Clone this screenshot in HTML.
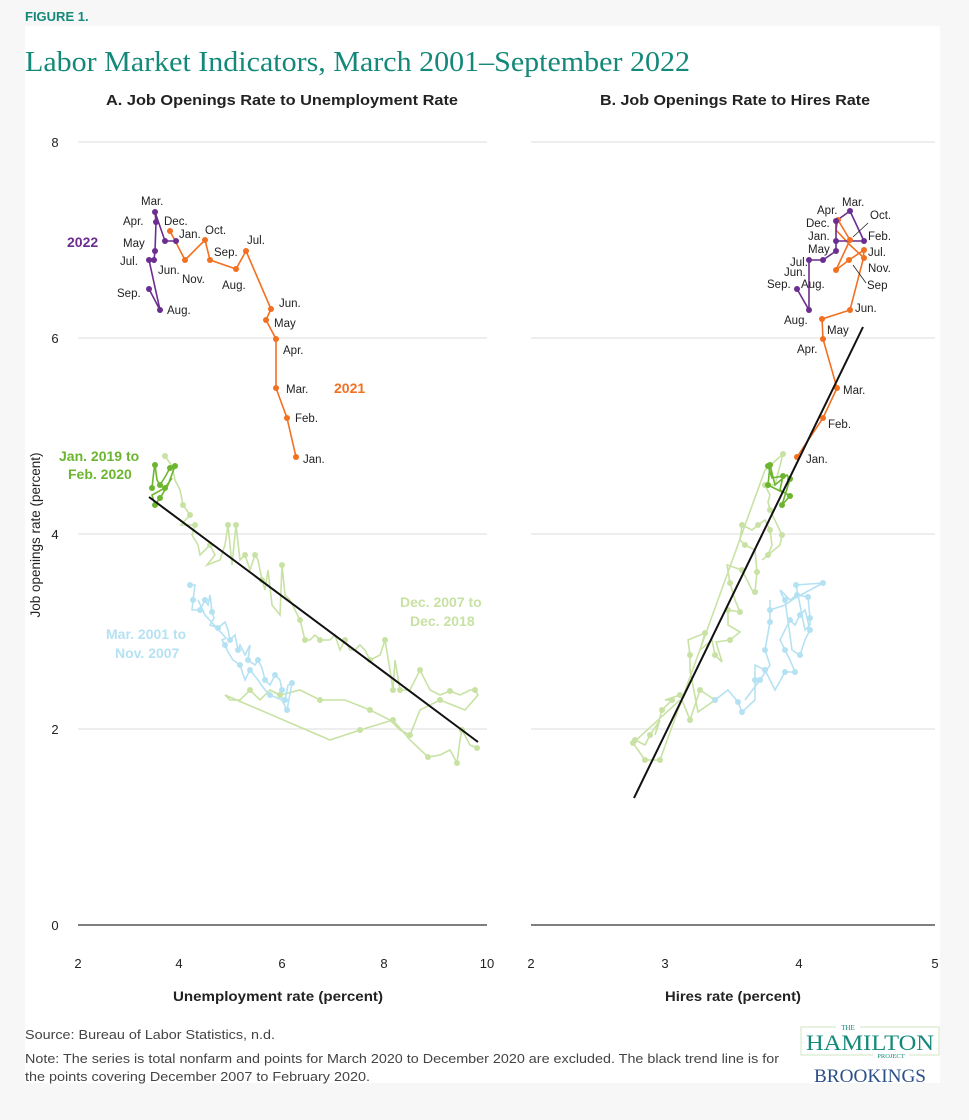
<!DOCTYPE html>
<html><head><meta charset="utf-8"><style>
html,body{margin:0;padding:0;background:#f7f7f7;}
svg{display:block;}
text{font-family:"Liberation Sans",sans-serif;}
.m{font-size:11.5px;fill:#222;}
.t{font-size:13px;fill:#222;}
</style></head><body>
<svg width="969" height="1120" viewBox="0 0 969 1120" xmlns="http://www.w3.org/2000/svg">
<rect x="25" y="26" width="915" height="1057" fill="#fff"/>
<text x="25" y="21" font-size="13" font-weight="bold" fill="#14897a">FIGURE 1.</text>
<text x="25" y="71" font-size="29" fill="#14897a" style="font-family:'Liberation Serif',serif" textLength="665" lengthAdjust="spacingAndGlyphs">Labor Market Indicators, March 2001–September 2022</text>
<text x="106" y="105" font-size="15" font-weight="bold" fill="#222" textLength="352" lengthAdjust="spacingAndGlyphs">A. Job Openings Rate to Unemployment Rate</text>
<text x="600" y="105" font-size="15" font-weight="bold" fill="#222" textLength="270" lengthAdjust="spacingAndGlyphs">B. Job Openings Rate to Hires Rate</text>
<!-- grid -->
<g stroke="#e3e3e3" stroke-width="1.3">
<line x1="78" y1="142" x2="487" y2="142"/><line x1="78" y1="338" x2="487" y2="338"/><line x1="78" y1="534" x2="487" y2="534"/><line x1="78" y1="729" x2="487" y2="729"/>
<line x1="531" y1="142" x2="935" y2="142"/><line x1="531" y1="338" x2="935" y2="338"/><line x1="531" y1="534" x2="935" y2="534"/><line x1="531" y1="729" x2="935" y2="729"/>
</g>
<g stroke="#333" stroke-width="1.2"><line x1="78" y1="925" x2="487" y2="925"/><line x1="531" y1="925" x2="935" y2="925"/></g>
<g class="t" text-anchor="middle">
<text x="55" y="147">8</text><text x="55" y="343">6</text><text x="55" y="539">4</text><text x="55" y="734">2</text><text x="55" y="930">0</text>
<text x="78" y="968">2</text><text x="179" y="968">4</text><text x="282" y="968">6</text><text x="384" y="968">8</text><text x="487" y="968">10</text>
<text x="531" y="968">2</text><text x="665" y="968">3</text><text x="799" y="968">4</text><text x="935" y="968">5</text>
</g>
<text x="173" y="1001" font-size="14" font-weight="bold" fill="#222" textLength="210" lengthAdjust="spacingAndGlyphs">Unemployment rate (percent)</text>
<text x="665" y="1001" font-size="14" font-weight="bold" fill="#222" textLength="136" lengthAdjust="spacingAndGlyphs">Hires rate (percent)</text>
<text transform="translate(40,535) rotate(-90)" text-anchor="middle" font-size="13.5" fill="#222">Job openings rate (percent)</text>

<!-- Panel A -->
<g fill="none" stroke-width="1.6">
<polyline stroke="#c8e2a4" points="165,456 172,466 175,480 180,490 183,505 190,515 181,525 195,525 192,535 198,545 200,555 210,545 215,555 207,565 220,560 225,545 228,525 232,565 236,525 240,560 245,555 250,570 255,555 258,560 262,580 265,590 268,570 272,605 280,615 282,565 285,595 290,600 300,620 305,640 310,640 315,635 320,640 330,640 335,635 340,650 345,640 350,650 355,650 360,645 365,650 370,660 380,655 385,640 390,670 393,690 395,660 400,690 405,690 410,690 420,670 430,690 440,695 450,691 460,695 470,690 475,690 478,695 465,710 440,700 420,710 410,735 400,730 390,720 370,710 345,700 320,700 300,690 280,695 270,690 260,700 250,690 240,700 230,700 225,695 330,740 360,730 393,720 410,740 428,757 440,755 450,750 457,763 460,740 462,730 470,745 477,748" />
<polyline stroke="#b5e2f3" points="190,585 195,585 193,600 192,610 200,610 205,600 208,605 210,595 212,612 214,618 210,625 218,628 225,622 228,630 230,640 235,635 238,650 240,645 245,655 250,645 248,660 255,665 258,660 262,668 265,680 270,685 275,675 280,680 282,690 278,695 285,700 288,685 292,683 287,710 282,700 270,695 265,690 258,680 250,670 245,680 240,665 233,660 228,652 225,645 222,640 226,638 205,615 198,600"/>
<polyline stroke="#6cb52f" points="152,488 154,470 155,465 157,480 160,485 165,477 170,468 175,466 168,485 160,498 155,505 152,495 165,488 172,478"/>
<polyline stroke="#f37021" points="296,457 287,418 276,388 276,339 266,320 271,309 246,251 236,269 210,260 205,240 185,260 170,231"/>
<polyline stroke="#6b2d8f" points="176,241 165,241 155,212 156,222 155,251 154,260 149,260 160,310 149,289"/>
</g>
<g>
<g fill="#c8e2a4">
<circle cx="165" cy="456" r="3"/><circle cx="183" cy="505" r="3"/><circle cx="195" cy="525" r="3"/><circle cx="210" cy="545" r="3"/><circle cx="228" cy="525" r="3"/><circle cx="236" cy="525" r="3"/><circle cx="245" cy="555" r="3"/><circle cx="262" cy="580" r="3"/><circle cx="282" cy="565" r="3"/><circle cx="300" cy="620" r="3"/><circle cx="320" cy="640" r="3"/><circle cx="345" cy="640" r="3"/><circle cx="370" cy="660" r="3"/><circle cx="385" cy="640" r="3"/><circle cx="393" cy="690" r="3"/><circle cx="420" cy="670" r="3"/><circle cx="450" cy="691" r="3"/><circle cx="475" cy="690" r="3"/><circle cx="440" cy="700" r="3"/><circle cx="410" cy="735" r="3"/><circle cx="370" cy="710" r="3"/><circle cx="320" cy="700" r="3"/><circle cx="280" cy="695" r="3"/><circle cx="250" cy="690" r="3"/><circle cx="360" cy="730" r="3"/><circle cx="393" cy="720" r="3"/><circle cx="428" cy="757" r="3"/><circle cx="457" cy="763" r="3"/><circle cx="462" cy="730" r="3"/><circle cx="477" cy="748" r="3"/><circle cx="190" cy="515" r="3"/><circle cx="255" cy="555" r="3"/><circle cx="305" cy="640" r="3"/><circle cx="400" cy="690" r="3"/>
</g>
<g fill="#b5e2f3">
<circle cx="190" cy="585" r="3"/><circle cx="193" cy="600" r="3"/><circle cx="205" cy="600" r="3"/><circle cx="212" cy="612" r="3"/><circle cx="218" cy="628" r="3"/><circle cx="230" cy="640" r="3"/><circle cx="238" cy="650" r="3"/><circle cx="248" cy="660" r="3"/><circle cx="258" cy="660" r="3"/><circle cx="265" cy="680" r="3"/><circle cx="275" cy="675" r="3"/><circle cx="282" cy="690" r="3"/><circle cx="285" cy="700" r="3"/><circle cx="292" cy="683" r="3"/><circle cx="287" cy="710" r="3"/><circle cx="270" cy="695" r="3"/><circle cx="250" cy="670" r="3"/><circle cx="240" cy="665" r="3"/><circle cx="225" cy="645" r="3"/><circle cx="200" cy="610" r="3"/>
</g>
<g fill="#6cb52f">
<circle cx="152" cy="488" r="3"/><circle cx="155" cy="465" r="3"/><circle cx="160" cy="485" r="3"/><circle cx="170" cy="468" r="3"/><circle cx="175" cy="466" r="3"/><circle cx="160" cy="498" r="3"/><circle cx="155" cy="505" r="3"/><circle cx="165" cy="488" r="3"/>
</g>
<g fill="#f37021">
<circle cx="296" cy="457" r="3"/><circle cx="287" cy="418" r="3"/><circle cx="276" cy="388" r="3"/><circle cx="276" cy="339" r="3"/><circle cx="266" cy="320" r="3"/><circle cx="271" cy="309" r="3"/><circle cx="246" cy="251" r="3"/><circle cx="236" cy="269" r="3"/><circle cx="210" cy="260" r="3"/><circle cx="205" cy="240" r="3"/><circle cx="185" cy="260" r="3"/><circle cx="170" cy="231" r="3"/>
</g>
<g fill="#6b2d8f">
<circle cx="176" cy="241" r="3"/><circle cx="165" cy="241" r="3"/><circle cx="155" cy="212" r="3"/><circle cx="156" cy="222" r="3"/><circle cx="155" cy="251" r="3"/><circle cx="154" cy="260" r="3"/><circle cx="149" cy="260" r="3"/><circle cx="160" cy="310" r="3"/><circle cx="149" cy="289" r="3"/>
</g>
</g>
<line x1="149" y1="497" x2="478" y2="742" stroke="#111" stroke-width="2"/>

<!-- Panel B -->
<g fill="none" stroke-width="1.6">
<polyline stroke="#c8e2a4" points="635,740 645,745 650,735 660,720 655,735 662,710 672,700 665,700 680,695 690,720 700,690 715,700 698,712 690,670 690,655 688,640 705,633 700,650 712,640 715,655 722,662 716,642 730,640 740,632 728,625 728,610 740,612 735,600 730,583 727,565 742,570 752,590 755,592 757,572 755,550 745,545 740,540 742,525 752,530 758,525 765,520 770,530 772,545 768,555 762,560 780,545 782,535 770,510 768,502 770,495 765,485 775,485 783,454 765,470 660,760 645,760 633,743 680,700"/>
<polyline stroke="#b5e2f3" points="715,700 728,690 738,702 742,712 755,700 755,680 755,665 765,670 775,690 785,672 795,672 790,660 785,650 780,640 790,620 795,625 800,615 805,610 810,630 805,640 800,655 792,650 785,600 782,595 780,590 790,600 797,595 808,597 810,618 810,625 805,630 796,585 823,583 795,598 785,605 770,610 770,600 770,622 765,650 770,665 760,680 745,700"/>
<polyline stroke="#6cb52f" points="768,466 772,478 783,476 780,490 790,496 782,505 790,479 787,475 775,485 770,465 768,485 782,492"/>
<polyline stroke="#f37021" points="797,457 823,418 837,388 823,339 822,319 850,310 863,260 864,250 849,260 836,270 850,240 838,220 836,230 850,245 864,258"/>
<polyline stroke="#6b2d8f" points="836,241 864,241 850,211 836,221 836,241 836,251 823,260 809,260 809,310 797,289"/>
</g>
<g>
<g fill="#c8e2a4">
<circle cx="635" cy="740" r="3"/><circle cx="650" cy="735" r="3"/><circle cx="662" cy="710" r="3"/><circle cx="680" cy="695" r="3"/><circle cx="690" cy="720" r="3"/><circle cx="700" cy="690" r="3"/><circle cx="715" cy="700" r="3"/><circle cx="690" cy="655" r="3"/><circle cx="705" cy="633" r="3"/><circle cx="715" cy="655" r="3"/><circle cx="730" cy="640" r="3"/><circle cx="728" cy="610" r="3"/><circle cx="730" cy="583" r="3"/><circle cx="742" cy="570" r="3"/><circle cx="755" cy="592" r="3"/><circle cx="757" cy="572" r="3"/><circle cx="745" cy="545" r="3"/><circle cx="742" cy="525" r="3"/><circle cx="758" cy="525" r="3"/><circle cx="770" cy="530" r="3"/><circle cx="768" cy="555" r="3"/><circle cx="782" cy="535" r="3"/><circle cx="770" cy="510" r="3"/><circle cx="765" cy="485" r="3"/><circle cx="783" cy="454" r="3"/><circle cx="660" cy="760" r="3"/><circle cx="645" cy="760" r="3"/><circle cx="633" cy="743" r="3"/><circle cx="672" cy="700" r="3"/><circle cx="740" cy="612" r="3"/>
</g>
<g fill="#b5e2f3">
<circle cx="715" cy="700" r="3"/><circle cx="738" cy="702" r="3"/><circle cx="742" cy="712" r="3"/><circle cx="755" cy="680" r="3"/><circle cx="765" cy="670" r="3"/><circle cx="785" cy="672" r="3"/><circle cx="795" cy="672" r="3"/><circle cx="785" cy="650" r="3"/><circle cx="790" cy="620" r="3"/><circle cx="800" cy="615" r="3"/><circle cx="810" cy="630" r="3"/><circle cx="800" cy="655" r="3"/><circle cx="785" cy="600" r="3"/><circle cx="797" cy="595" r="3"/><circle cx="808" cy="597" r="3"/><circle cx="810" cy="618" r="3"/><circle cx="796" cy="585" r="3"/><circle cx="823" cy="583" r="3"/><circle cx="770" cy="610" r="3"/><circle cx="770" cy="622" r="3"/><circle cx="765" cy="650" r="3"/><circle cx="760" cy="680" r="3"/>
</g>
<g fill="#6cb52f">
<circle cx="768" cy="466" r="3"/><circle cx="783" cy="476" r="3"/><circle cx="790" cy="496" r="3"/><circle cx="782" cy="505" r="3"/><circle cx="790" cy="479" r="3"/><circle cx="770" cy="465" r="3"/><circle cx="768" cy="485" r="3"/>
</g>
<g fill="#f37021">
<circle cx="797" cy="457" r="3"/><circle cx="823" cy="418" r="3"/><circle cx="837" cy="388" r="3"/><circle cx="823" cy="339" r="3"/><circle cx="822" cy="319" r="3"/><circle cx="850" cy="310" r="3"/><circle cx="864" cy="250" r="3"/><circle cx="849" cy="260" r="3"/><circle cx="836" cy="270" r="3"/><circle cx="850" cy="240" r="3"/><circle cx="838" cy="220" r="3"/><circle cx="864" cy="258" r="3"/>
</g>
<g fill="#6b2d8f">
<circle cx="836" cy="241" r="3"/><circle cx="864" cy="241" r="3"/><circle cx="850" cy="211" r="3"/><circle cx="836" cy="221" r="3"/><circle cx="836" cy="251" r="3"/><circle cx="823" cy="260" r="3"/><circle cx="809" cy="260" r="3"/><circle cx="809" cy="310" r="3"/><circle cx="797" cy="289" r="3"/>
</g>
</g>
<line x1="634" y1="798" x2="863" y2="327" stroke="#111" stroke-width="2"/>
<g stroke="#222" stroke-width="0.8"><line x1="868" y1="223" x2="853" y2="237"/><line x1="866" y1="283" x2="853" y2="265"/></g>

<!-- labels A -->
<g class="m">
<text x="141" y="205">Mar.</text><text x="123" y="225">Apr.</text><text x="164" y="225">Dec.</text><text x="123" y="247">May</text><text x="179" y="238">Jan.</text><text x="205" y="234">Oct.</text>
<text x="120" y="265">Jul.</text><text x="158" y="274">Jun.</text><text x="182" y="283">Nov.</text><text x="214" y="256">Sep.</text><text x="247" y="244">Jul.</text><text x="222" y="289">Aug.</text>
<text x="117" y="297">Sep.</text><text x="167" y="314">Aug.</text><text x="279" y="307">Jun.</text><text x="274" y="327">May</text><text x="283" y="354">Apr.</text><text x="286" y="393">Mar.</text><text x="295" y="422">Feb.</text><text x="303" y="463">Jan.</text>
</g>
<g font-size="14" font-weight="bold">
<text x="67" y="247" fill="#6b2d8f">2022</text>
<text x="334" y="393" fill="#f37021">2021</text>
<text x="59" y="461" fill="#6cb52f">Jan. 2019 to</text><text x="68" y="479" fill="#6cb52f">Feb. 2020</text>
<text x="400" y="607" fill="#c8e2a4">Dec. 2007 to</text><text x="410" y="626" fill="#c8e2a4">Dec. 2018</text>
<text x="106" y="639" fill="#b5e2f3">Mar. 2001 to</text><text x="115" y="658" fill="#b5e2f3">Nov. 2007</text>
</g>
<!-- labels B -->
<g class="m">
<text x="842" y="206">Mar.</text><text x="817" y="214">Apr.</text><text x="806" y="227">Dec.</text><text x="870" y="219">Oct.</text><text x="808" y="240">Jan.</text><text x="868" y="240">Feb.</text>
<text x="808" y="253">May</text><text x="868" y="256">Jul.</text><text x="790" y="266">Jul.</text><text x="868" y="272">Nov.</text><text x="784" y="276">Jun.</text><text x="801" y="288">Aug.</text><text x="867" y="289">Sep</text>
<text x="767" y="288">Sep.</text><text x="855" y="312">Jun.</text><text x="784" y="324">Aug.</text><text x="827" y="334">May</text><text x="797" y="353">Apr.</text><text x="843" y="394">Mar.</text><text x="828" y="428">Feb.</text><text x="806" y="463">Jan.</text>
</g>

<!-- footer -->
<text x="25" y="1039" font-size="12.5" fill="#444" textLength="250" lengthAdjust="spacingAndGlyphs">Source: Bureau of Labor Statistics, n.d.</text>
<text x="25" y="1063" font-size="12.5" fill="#444" textLength="754" lengthAdjust="spacingAndGlyphs">Note: The series is total nonfarm and points for March 2020 to December 2020 are excluded. The black trend line is for</text>
<text x="25" y="1081" font-size="12.5" fill="#444" textLength="345" lengthAdjust="spacingAndGlyphs">the points covering December 2007 to February 2020.</text>
<rect x="801" y="1027" width="138" height="28" fill="none" stroke="#cfe6c0" stroke-width="1"/>
<rect x="836" y="1023" width="24" height="8" fill="#fff"/>
<text x="848" y="1030" text-anchor="middle" font-size="7" fill="#14897a" style="font-family:'Liberation Serif',serif">THE</text>
<text x="870" y="1050" text-anchor="middle" font-size="22" fill="#14897a" style="font-family:'Liberation Serif',serif" textLength="128" lengthAdjust="spacingAndGlyphs">HAMILTON</text>
<rect x="873" y="1052" width="36" height="7" fill="#fff"/>
<text x="891" y="1058" text-anchor="middle" font-size="6.5" fill="#14897a" style="font-family:'Liberation Serif',serif">PROJECT</text>
<text x="870" y="1082" text-anchor="middle" font-size="19" fill="#2b4f8a" style="font-family:'Liberation Serif',serif" textLength="112" lengthAdjust="spacingAndGlyphs">BROOKINGS</text>
</svg>
</body></html>
